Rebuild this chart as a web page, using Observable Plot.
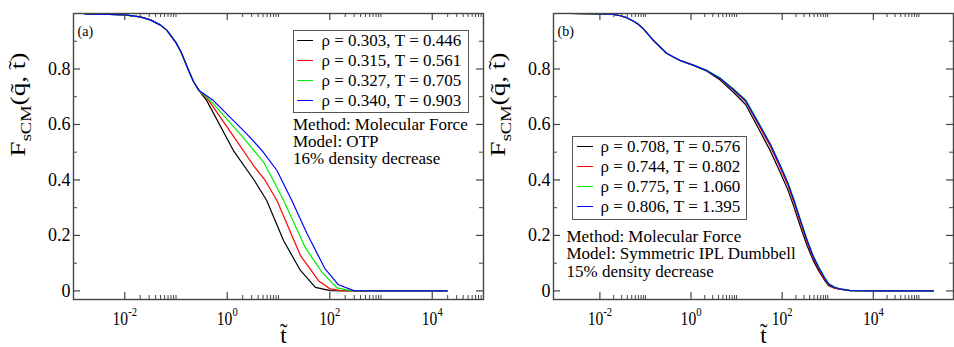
<!DOCTYPE html>
<html><head><meta charset="utf-8">
<script src="https://cdn.jsdelivr.net/npm/d3@7"></script>
<script src="https://cdn.jsdelivr.net/npm/@observablehq/plot@0.6"></script>
<style>
body{margin:0;background:#fff;}
#wrap{position:relative;width:954px;height:347px;overflow:hidden;font-family:"Liberation Serif","Times New Roman",serif;background:#fff;color:#000;}
.panel{position:absolute;top:0;}
.legend{position:absolute;border:1.2px solid #555;box-sizing:border-box;}
.row{position:absolute;height:20px;font-size:17px;line-height:20px;white-space:nowrap;}
.sw{position:absolute;height:1.4px;}
.note{position:absolute;font-size:17px;white-space:nowrap;}
</style></head>
<body><div id="wrap"></div>
<script>
// ---------- data ----------
const colors = ["#000000", "#ff0000", "#00ee00", "#0000ff"];
const namesA = ["ρ = 0.303, T = 0.446", "ρ = 0.315, T = 0.561", "ρ = 0.327, T = 0.705", "ρ = 0.340, T = 0.903"];
const namesB = ["ρ = 0.708, T = 0.576", "ρ = 0.744, T = 0.802", "ρ = 0.775, T = 1.060", "ρ = 0.806, T = 1.395"];
const notesA = ["Method: Molecular Force", "Model: OTP", "16% density decrease"];
const notesB = ["Method: Molecular Force", "Model: Symmetric IPL Dumbbell", "15% density decrease"];

// panel (a)
const tA1 = [0.0017, 0.005, 0.01, 0.02, 0.0316, 0.05, 0.066, 0.1, 0.126, 0.166, 0.219, 0.282, 0.398, 1.32, 3.39, 5.89, 12.6, 26.3, 52.5, 102, 316, 1000, 3162, 19500];
const FA1 = [0.998, 0.997, 0.995, 0.988, 0.977, 0.958, 0.940, 0.895, 0.860, 0.806, 0.755, 0.722, 0.686, 0.506, 0.398, 0.326, 0.181, 0.076, 0.013, 0.001, 0, 0, 0, 0];
const tA2 = [0.0017, 0.005, 0.01, 0.02, 0.0316, 0.05, 0.066, 0.1, 0.126, 0.166, 0.219, 0.282, 0.437, 1.23, 3.24, 5.5, 9.33, 26.9, 60.3, 102, 162, 316, 1000, 3162, 19500];
const FA2 = [0.998, 0.997, 0.995, 0.988, 0.977, 0.958, 0.940, 0.895, 0.860, 0.806, 0.755, 0.722, 0.686, 0.566, 0.452, 0.398, 0.326, 0.127, 0.037, 0.007, 0.001, 0, 0, 0, 0];
const tA3 = [0.0017, 0.005, 0.01, 0.02, 0.0316, 0.05, 0.066, 0.1, 0.126, 0.166, 0.219, 0.282, 0.468, 1.78, 5.13, 7.94, 12.6, 33.1, 70.8, 138, 251, 1000, 3162, 19500];
const FA3 = [0.998, 0.997, 0.995, 0.988, 0.977, 0.958, 0.940, 0.895, 0.860, 0.806, 0.755, 0.722, 0.686, 0.566, 0.464, 0.398, 0.326, 0.157, 0.067, 0.011, 0.001, 0, 0, 0];
const tA4 = [0.0017, 0.005, 0.01, 0.02, 0.0316, 0.05, 0.066, 0.1, 0.126, 0.166, 0.219, 0.282, 0.537, 2.40, 4.79, 9.33, 18.2, 36.3, 81.3, 148, 295, 1000, 3162, 19500];
const FA4 = [0.998, 0.997, 0.995, 0.988, 0.977, 0.958, 0.940, 0.895, 0.860, 0.806, 0.755, 0.722, 0.686, 0.566, 0.506, 0.434, 0.326, 0.205, 0.079, 0.022, 0.001, 0, 0, 0];

// panel (b)
const tB = [0.00229, 0.01, 0.02, 0.0282, 0.0398, 0.055, 0.0708, 0.0912, 0.151, 0.295, 0.589, 1.15, 2.24, 4.37, 8.51, 15.8, 33.9, 56.2, 91.2, 132, 182, 251, 355, 479, 631, 832, 1047, 1413, 1905, 3162, 10000, 209000];
const FB1 = [1.0, 0.999, 0.997, 0.992, 0.984, 0.972, 0.960, 0.944, 0.902, 0.856, 0.830, 0.813, 0.792, 0.760, 0.716, 0.672, 0.570, 0.502, 0.426, 0.366, 0.302, 0.232, 0.162, 0.110, 0.073, 0.041, 0.019, 0.010, 0.005, 0.001, 0, 0];
const FB2 = [1.0, 0.999, 0.997, 0.992, 0.984, 0.972, 0.960, 0.944, 0.902, 0.856, 0.830, 0.813, 0.794, 0.765, 0.724, 0.683, 0.584, 0.518, 0.442, 0.382, 0.318, 0.247, 0.174, 0.119, 0.080, 0.046, 0.022, 0.011, 0.006, 0.001, 0, 0];
const FB3 = [1.0, 0.999, 0.997, 0.992, 0.984, 0.972, 0.960, 0.944, 0.902, 0.856, 0.830, 0.813, 0.794, 0.768, 0.729, 0.689, 0.593, 0.528, 0.453, 0.393, 0.329, 0.258, 0.184, 0.128, 0.088, 0.052, 0.027, 0.014, 0.007, 0.001, 0, 0];
const FB4 = [1.0, 0.999, 0.997, 0.992, 0.984, 0.972, 0.960, 0.944, 0.902, 0.856, 0.830, 0.813, 0.794, 0.766, 0.726, 0.686, 0.590, 0.525, 0.450, 0.390, 0.326, 0.255, 0.181, 0.125, 0.085, 0.050, 0.025, 0.013, 0.007, 0.001, 0, 0];

// ticks
const xMajor = [0.01, 1, 100, 10000];
const xTickLabels = ["10^{-2}", "10^{0}", "10^{2}", "10^{4}"];
const xMinor = [0.02, 0.03, 0.04, 0.05, 0.06, 0.07, 0.08, 0.09, 0.1,
  2, 3, 4, 5, 6, 7, 8, 9, 10,
  200, 300, 400, 500, 600, 700, 800, 900, 1000,
  20000, 30000, 40000, 50000, 60000, 70000, 80000, 90000, 100000];
const yMajor = [0, 0.2, 0.4, 0.6, 0.8];
const yTickLabels = ["0", "0.2", "0.4", "0.6", "0.8"];
const yMinor = [0.1, 0.3, 0.5, 0.7, 0.9];
const yLabel = "F_{sCM}(q\u0303, t\u0303)";
const xLabel = "t\u0303";

// ---------- drawing ----------
const H = 347, MT = 13, MB = 48;
const axisColor = "#444";
const wrap = document.getElementById("wrap");

function richify(el) {
  const s = el.textContent;
  if (!/[_^]\{/.test(s)) return;
  const fs = parseFloat(getComputedStyle(el).fontSize);
  const ns = "http://www.w3.org/2000/svg";
  while (el.firstChild) el.removeChild(el.firstChild);
  let cur = 0, last = 0, m;
  const re = /([_^])\{([^}]*)\}/g;
  const add = (txt, want, size) => {
    if (!txt) return;
    const t = document.createElementNS(ns, "tspan");
    t.textContent = txt;
    if (want !== cur) t.setAttribute("dy", want - cur);
    cur = want;
    if (size) t.setAttribute("font-size", size);
    el.appendChild(t);
  };
  while ((m = re.exec(s))) {
    add(s.slice(last, m.index), 0);
    if (m[1] === "^") add(m[2], -0.45 * fs, 0.68 * fs);
    else add(m[2], 0.28 * fs, 0.68 * fs);
    last = re.lastIndex;
  }
  add(s.slice(last), 0);
}
function stretch(el, sx) {
  const tr = el.getAttribute("transform") || "";
  el.setAttribute("transform", tr + ` scale(${sx.toFixed(3)},1)`);
}

function panel({left, width, marginLeft, marginRight, domain, series, names, tag, xdx}) {
  const data = series.flatMap((s, k) => s.t.map((t, i) => ({t, F: s.F[i], k: names[k]})));
  const innerH = H - MT - MB;
  const innerW = width - marginLeft - marginRight;
  const svg = Plot.plot({
    width, height: H, marginLeft, marginRight, marginTop: MT, marginBottom: MB,
    style: {fontFamily: "'Liberation Serif', 'Times New Roman', serif", background: "transparent", color: "#000", overflow: "visible"},
    x: {type: "log", domain, axis: null},
    y: {domain: [-0.031, 1.0], axis: null},
    color: {domain: names, range: colors},
    marks: [
      Plot.line(data, {x: "t", y: "F", z: "k", stroke: "k", strokeWidth: 1.2}),
      Plot.ruleX(xMajor, {x: d => d, insetTop: innerH - 7, stroke: axisColor, strokeWidth: 1.2}),
      Plot.ruleX(xMajor, {x: d => d, insetBottom: innerH - 7, stroke: axisColor, strokeWidth: 1.2}),
      Plot.ruleX(xMinor, {x: d => d, insetTop: innerH - 4, stroke: axisColor, strokeWidth: 1}),
      Plot.ruleX(xMinor, {x: d => d, insetBottom: innerH - 4, stroke: axisColor, strokeWidth: 1}),
      Plot.ruleY(yMajor, {y: d => d, insetRight: innerW - 7, stroke: axisColor, strokeWidth: 1.2}),
      Plot.ruleY(yMajor, {y: d => d, insetLeft: innerW - 7, stroke: axisColor, strokeWidth: 1.2}),
      Plot.ruleY(yMinor, {y: d => d, insetRight: innerW - 4, stroke: axisColor, strokeWidth: 1}),
      Plot.ruleY(yMinor, {y: d => d, insetLeft: innerW - 4, stroke: axisColor, strokeWidth: 1}),
      Plot.axisX({ticks: xMajor, label: null, tickSize: 0, tickPadding: 12, fontSize: 19, tickFormat: d => xTickLabels[xMajor.indexOf(d)]}),
      Plot.axisY({ticks: yMajor, label: null, tickSize: 0, tickPadding: 3, fontSize: 18, tickFormat: d => yTickLabels[yMajor.indexOf(d)]}),
      Plot.frame({stroke: axisColor, strokeWidth: 1.4}),
      Plot.text([tag], {frameAnchor: "top-left", dx: 4, dy: 12.5, textAnchor: "start", fontSize: 14}),
      Plot.text([yLabel], {frameAnchor: "left", rotate: -90, dx: -55, fontSize: 21}),
      Plot.text([xLabel], {frameAnchor: "bottom", dx: xdx, dy: 43, fontSize: 23})
    ]
  });
  svg.classList.add("panel");
  svg.style.left = left + "px";
  wrap.appendChild(svg);
  svg.querySelectorAll("text").forEach(richify);
  // the original's tick labels are narrow and its rotated label long
  svg.querySelectorAll('[aria-label="x-axis tick label"] text').forEach(el => stretch(el, 0.82));
  svg.querySelectorAll("text").forEach(el => {
    if (el.textContent.startsWith("FsCM")) stretch(el, 104 / el.getComputedTextLength());
  });
}

panel({left: 0, width: 486, marginLeft: 73, marginRight: 3, domain: [1e-3, 1e5],
  series: [{t: tA1, F: FA1}, {t: tA2, F: FA2}, {t: tA3, F: FA3}, {t: tA4, F: FA4}],
  names: namesA, tag: "(a)", xdx: 5});
panel({left: 486, width: 468, marginLeft: 67, marginRight: 1, domain: [0.00096, 5.75e5],
  series: [{t: tB, F: FB1}, {t: tB, F: FB2}, {t: tB, F: FB3}, {t: tB, F: FB4}],
  names: namesB, tag: "(b)", xdx: 10});

function legend({box, swX, textX, rowTop, names}) {
  const b = document.createElement("div");
  b.className = "legend";
  Object.assign(b.style, {left: box[0] + "px", top: box[1] + "px", width: box[2] + "px", height: box[3] + "px"});
  wrap.appendChild(b);
  names.forEach((n, i) => {
    const c = rowTop + i * 20;
    const sw = document.createElement("div");
    sw.className = "sw";
    Object.assign(sw.style, {left: swX + "px", width: "16px", top: (c - 0.7) + "px", background: colors[i]});
    wrap.appendChild(sw);
    const r = document.createElement("div");
    r.className = "row";
    r.textContent = n;
    Object.assign(r.style, {left: textX + "px", top: (c - 10) + "px"});
    wrap.appendChild(r);
  });
}
function notes({x, y0, gap, lines}) {
  const d = document.createElement("div");
  d.className = "note";
  lines.forEach((s, i) => {
    if (i) d.appendChild(document.createElement("br"));
    d.appendChild(document.createTextNode(s));
  });
  Object.assign(d.style, {left: x + "px", top: (y0 - gap / 2) + "px", lineHeight: gap + "px"});
  wrap.appendChild(d);
}
legend({box: [293, 30, 176, 83], swX: 297, textX: 321.5, rowTop: 40.7, names: namesA});
notes({x: 293, y0: 124.5, gap: 17.2, lines: notesA});
legend({box: [572, 136, 175, 84], swX: 577, textX: 600.5, rowTop: 146.7, names: namesB});
notes({x: 566.5, y0: 236.7, gap: 17.2, lines: notesB});
</script></body></html>
